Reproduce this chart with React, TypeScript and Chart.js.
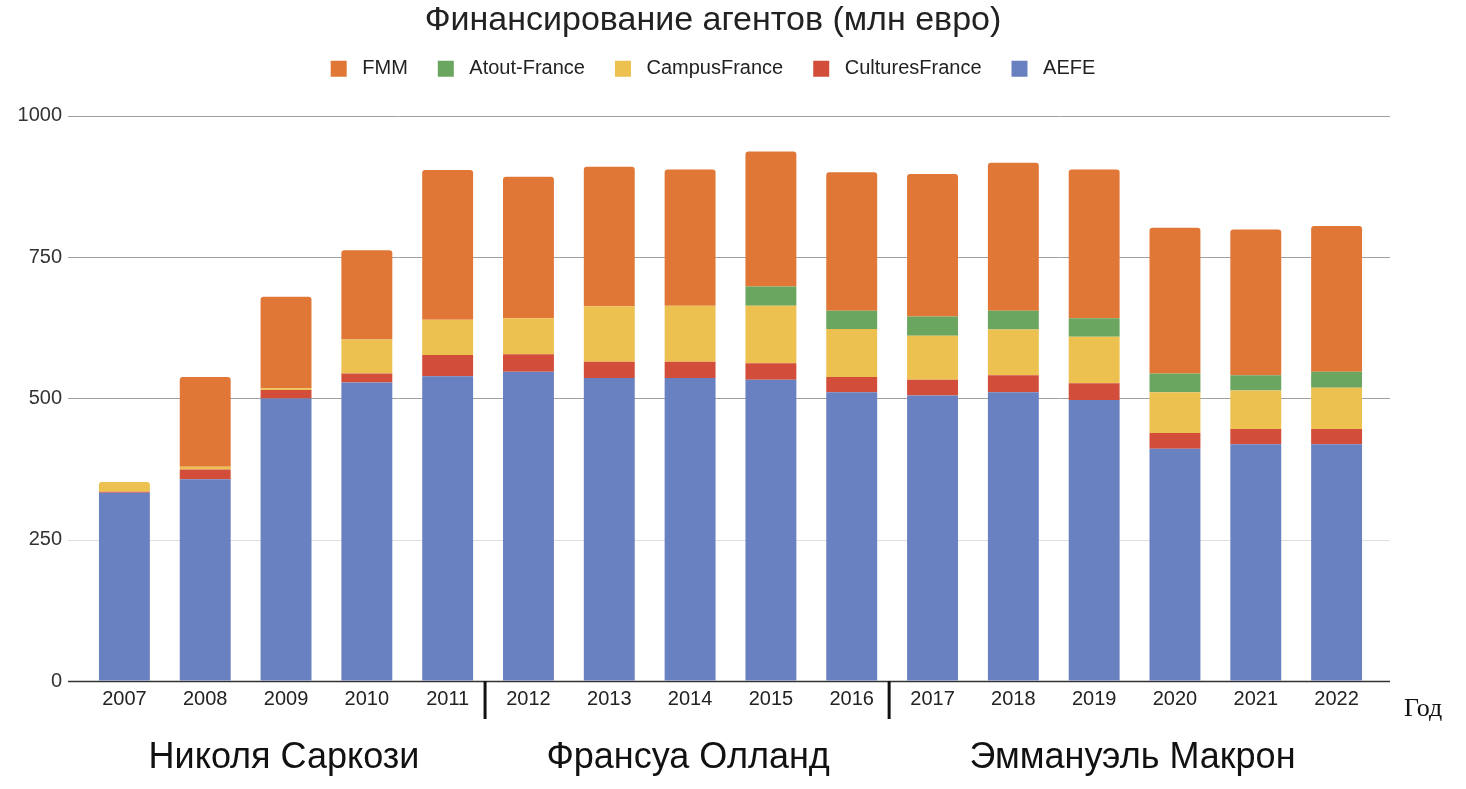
import React, { useEffect, useRef } from "react";
import { Chart, registerables } from "chart.js";

Chart.register(...registerables);

const years = ["2007", "2008", "2009", "2010", "2011", "2012", "2013", "2014", "2015", "2016", "2017", "2018", "2019", "2020", "2021", "2022"];

// stacked bottom -> top
const aefe = [333, 357, 500, 528, 539, 547, 536, 536, 533, 511, 505, 511, 497, 411, 419, 419];
const culturesFrance = [2, 17, 15, 16, 38, 31, 29, 29, 29, 27, 28, 30, 30, 28, 27, 27];
const campusFrance = [17, 5, 3, 60, 62, 64, 98, 99, 102, 85, 78, 81, 82, 72, 68, 73];
const atoutFrance = [0, 0, 0, 0, 0, 0, 0, 0, 34, 32, 34, 33, 33, 33, 27, 28];
const fmm = [0, 159, 162, 158, 265, 250, 247, 241, 239, 245, 252, 262, 263, 258, 258, 258];

const yTicks = [0, 250, 500, 750, 1000];

const presidents = [
	{ name: "Николя Саркози", from: 0, to: 4 },
	{ name: "Франсуа Олланд", from: 5, to: 9 },
	{ name: "Эммануэль Макрон", from: 10, to: 15 },
];

const SANS = "'Liberation Sans', Arial, sans-serif";

// extra room between legend and plot
const legendGap = {
	id: "legendGap",
	beforeInit(chart: any) {
		const legend = chart.legend;
		if (!legend) return;
		const fit = legend.fit;
		legend.fit = function () {
			fit.call(this);
			this.height += 27;
		};
	},
};

const extrasPlugin = {
	id: "extras",
	beforeDatasetsDraw(chart: any) {
		const { ctx, chartArea, scales } = chart;
		const y = scales.y;
		ctx.save();
		yTicks.forEach((t) => {
			const py = Math.round(y.getPixelForValue(t)) + 0.5;
			ctx.beginPath();
			ctx.strokeStyle = t === 0 ? "#333333" : t === 250 ? "#dedede" : "#a0a0a0";
			ctx.lineWidth = t === 0 ? 1.5 : 1;
			ctx.moveTo(chartArea.left - 16, py);
			ctx.lineTo(chartArea.right + 13, py);
			ctx.stroke();
		});
		ctx.restore();
	},
	afterDraw(chart: any) {
		const { ctx, chartArea, scales } = chart;
		const x = scales.x;
		ctx.save();
		// term separators
		ctx.strokeStyle = "#111111";
		ctx.lineWidth = 3;
		presidents.slice(0, -1).forEach((p) => {
			const px = (x.getPixelForValue(p.to) + x.getPixelForValue(p.to + 1)) / 2 - 3;
			ctx.beginPath();
			ctx.moveTo(px, chartArea.bottom);
			ctx.lineTo(px, chartArea.bottom + 38);
			ctx.stroke();
		});
		// president names
		ctx.fillStyle = "#111111";
		ctx.font = `36px ${SANS}`;
		ctx.textAlign = "center";
		ctx.textBaseline = "middle";
		presidents.forEach((p) => {
			const cx = (x.getPixelForValue(p.from) + x.getPixelForValue(p.to)) / 2;
			ctx.fillText(p.name, cx - 2, chartArea.bottom + 77);
		});
		// axis name
		ctx.font = "26px 'Liberation Serif', 'Times New Roman', serif";
		ctx.textAlign = "left";
		ctx.fillText("Год", chartArea.right + 27, chartArea.bottom + 28);
		ctx.restore();
	},
};

const App: React.FC = () => {
	const chartRef = useRef<HTMLCanvasElement | null>(null);
	const chartInstance = useRef<Chart | null>(null);

	useEffect(() => {
		if (chartInstance.current) {
			chartInstance.current.destroy();
			chartInstance.current = null;
		}
		if (!chartRef.current) return;

		const ds = (label: string, data: number[], color: string) => ({
			label,
			data,
			backgroundColor: color,
			borderWidth: 0,
			borderRadius: 3,
			barPercentage: 0.63,
			categoryPercentage: 1,
		});

		chartInstance.current = new Chart(chartRef.current, {
			type: "bar",
			data: {
				labels: years,
				datasets: [
					ds("AEFE", aefe, "#6a81c1"),
					ds("CulturesFrance", culturesFrance, "#d24e3a"),
					ds("CampusFrance", campusFrance, "#edc150"),
					ds("Atout-France", atoutFrance, "#6ba660"),
					ds("FMM", fmm, "#e07736"),
				],
			},
			options: {
				responsive: true,
				maintainAspectRatio: false,
				animation: false,
				layout: { padding: { left: 0, right: 40, top: 0, bottom: 0 } },
				scales: {
					x: {
						stacked: true,
						grid: { display: false, drawTicks: false },
						border: { display: false },
						ticks: { color: "#222222", font: { size: 20, family: SANS }, padding: 6 },
						afterFit: (scale: any) => {
							scale.height = 108;
						},
					},
					y: {
						stacked: true,
						min: 0,
						max: 1000,
						grid: { color: "transparent", tickLength: 16 },
						border: { display: false },
						ticks: {
							stepSize: 250,
							color: "#333333",
							font: { size: 20, family: SANS },
							padding: 6,
							callback: (v: any) => String(v),
						},
						afterFit: (scale: any) => {
							scale.width = 84;
						},
					},
					yRight: {
						position: "right",
						grid: { display: false },
						border: { display: false },
						ticks: { display: false },
						afterFit: (scale: any) => {
							scale.width = 49;
						},
					},
				},
				plugins: {
					title: {
						display: true,
						text: "Финансирование агентов (млн евро)",
						color: "#222222",
						font: { size: 34, family: SANS, weight: "normal" },
						padding: { top: 0, bottom: -12 },
					},
					legend: {
						reverse: true,
						labels: {
							boxWidth: 16,
							boxHeight: 16,
							padding: 30,
							color: "#222222",
							font: { size: 20, family: SANS },
							generateLabels: (chart: any) =>
								Chart.defaults.plugins.legend.labels
									.generateLabels(chart)
									.map((l: any) => ({ ...l, text: " " + l.text })),
						},
					},
					tooltip: { enabled: false },
				},
			},
			plugins: [legendGap, extrasPlugin],
		} as any);

		return () => {
			if (chartInstance.current) {
				chartInstance.current.destroy();
				chartInstance.current = null;
			}
		};
	}, []);

	return (
		<div style={{ position: "absolute", left: 0, top: 0, width: 1466, height: 789, background: "#ffffff" }}>
			<canvas ref={chartRef}></canvas>
		</div>
	);
};

export default App;
